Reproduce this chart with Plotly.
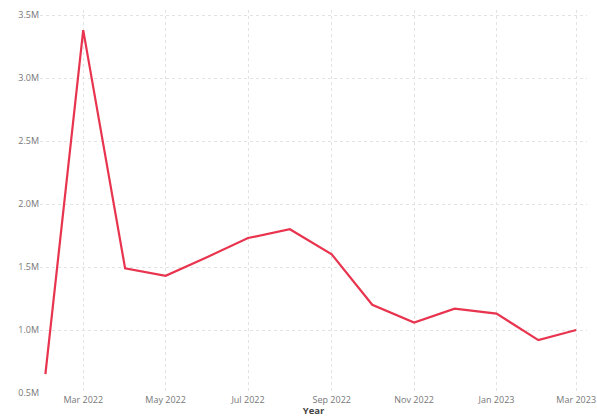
import plotly.graph_objects as go

months = ["2022-02-01", "2022-03-01", "2022-04-01", "2022-05-01", "2022-06-01",
          "2022-07-01", "2022-08-01", "2022-09-01", "2022-10-01", "2022-11-01",
          "2022-12-01", "2023-01-01", "2023-02-01", "2023-03-01"]
values = [0.65e6, 3.38e6, 1.49e6, 1.43e6, 1.58e6, 1.73e6, 1.80e6, 1.60e6,
          1.20e6, 1.06e6, 1.17e6, 1.13e6, 0.92e6, 1.00e6]
y_tick_vals = [0.5e6, 1.0e6, 1.5e6, 2.0e6, 2.5e6, 3.0e6, 3.5e6]
y_tick_text = ["0.5M", "1.0M", "1.5M", "2.0M", "2.5M", "3.0M", "3.5M"]

fig = go.Figure(go.Scatter(
    x=months, y=values, mode="lines",
    line=dict(color="#E8344E", width=2.2),
    hoverinfo="skip",
))

fig.update_layout(
    width=597, height=417,
    margin=dict(l=40, r=10, t=10, b=24),
    paper_bgcolor="white", plot_bgcolor="white",
    showlegend=False,
    font=dict(family="Open Sans", size=9, color="#777777"),
)
fig.update_xaxes(
    type="date",
    range=["2022-01-28", "2023-03-09"],
    tick0="2022-03-01", dtick="M2", tickformat="%b %Y",
    ticklabeloverflow="allow",
    showgrid=True, gridcolor="#e3e3e3", griddash="dot", gridwidth=1,
    zeroline=False, showline=False, ticks="",
    title=dict(text="<b>Year</b>", font=dict(family="Open Sans", size=9.5, color="#444444"), standoff=6),
    automargin=False,
)
fig.update_yaxes(
    range=[0.5e6, 3.54e6],
    tickvals=y_tick_vals, ticktext=y_tick_text,
    showgrid=True, gridcolor="#e3e3e3", griddash="dot", gridwidth=1,
    zeroline=False, showline=False, ticks="",
    automargin=False,
)

fig.write_html("out.html", config={"displayModeBar": False},
               post_script="document.body.style.margin='0';document.body.style.overflow='hidden';")
